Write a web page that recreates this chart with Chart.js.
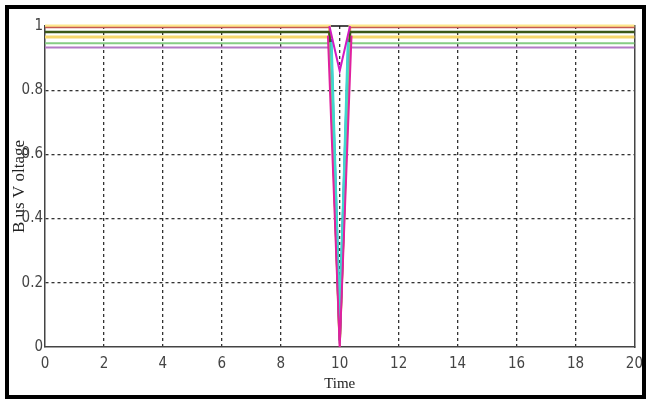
<!DOCTYPE html>
<html>
<head>
<meta charset="utf-8">
<script src="https://cdn.jsdelivr.net/npm/chart.js@4"></script>
<style>
  body { margin: 0; background: #fff; }
  #wrap { position: relative; width: 651px; height: 401px; }
  #marco { position: absolute; left: 5px; top: 5px; width: 633px; height: 386px; border: 4px solid #000; pointer-events: none; }
</style>
</head>
<body>
<div id="wrap">
  <canvas id="myChart" width="651" height="401"></canvas>
  <div id="marco"></div>
</div>
<script>
// datos
const tiempos = [0, 9.65, 10, 10.35, 20];
const barraNegra = [1.0, 1.0, 1.0, 1.0, 1.0];
const barraAmarilla1 = [1.0, 1.0, 0.03, 1.0, 1.0];
const barraRoja = [0.995, 0.995, 0.0, 0.995, 0.995];
const barraVerdeOsc = [0.981, 0.981, 0.02, 0.981, 0.981];
const barraAmarilla2 = [0.966, 0.966, 0.04, 0.966, 0.966];
const barraVerde = [0.946, 0.946, 0.05, 0.946, 0.946];
const barraVioleta = [0.933, 0.933, 0.01, 0.933, 0.933];

// tramos de la caida (lineas que quedan tapadas en el resto)
const tiemposCaidaAncha = [9.6, 10, 10.4];
const barraMagenta = [0.97, 0.0, 0.97];
const tiemposCaidaAngosta = [9.72, 10, 10.28];
const barraCian = [0.95, 0.08, 0.95];
const barraAzul = [0.96, 0.15, 0.96];
const tiemposV = [9.65, 10, 10.35];
const barraMagentaV = [1.0, 0.86, 1.0];

const ticksX = [0, 2, 4, 6, 8, 10, 12, 14, 16, 18, 20];
const ticksY = [0, 0.2, 0.4, 0.6, 0.8, 1];

function puntos(t, valores) {
    return valores.map((v, i) => ({ x: t[i], y: v }));
}

function serie(nombre, t, valores, color, ancho) {
    return {
        label: nombre,
        data: puntos(t, valores),
        borderColor: color,
        borderWidth: ancho,
        pointRadius: 0,
        tension: 0,
        clip: false,
    };
}

const fuenteTicks = { family: "'Liberation Sans Narrow', 'DejaVu Sans Condensed', sans-serif", size: 15 };
const fuenteTitulo = { family: "'Liberation Serif', 'DejaVu Serif', serif", size: 17 };

const ctx = document.getElementById('myChart').getContext('2d');

new Chart(ctx, {
    type: 'line',
    data: {
        datasets: [
            // el primero queda arriba
            serie('Bus J', tiemposV, barraMagentaV, '#d21ac0', 2),
            serie('Bus G', tiemposCaidaAncha, barraMagenta, '#e0209f', 2),
            serie('Bus H', tiemposCaidaAngosta, barraCian, '#3fd8cf', 2.5),
            serie('Bus I', tiemposCaidaAngosta, barraAzul, '#3550b8', 1.2),
            serie('Bus E', tiempos, barraVerde, '#86cc84', 2),
            serie('Bus F', tiempos, barraVioleta, '#b37ac6', 2),
            serie('Bus C', tiempos, barraVerdeOsc, '#3b5716', 2.5),
            serie('Bus B', tiempos, barraRoja, '#c65a52', 1.5),
            serie('Bus D', tiempos, barraAmarilla2, '#f6d76c', 3),
            serie('Bus A', tiempos, barraAmarilla1, '#fde78c', 3),
            serie('Bus K', tiempos, barraNegra, '#111111', 1.5),
        ]
    },
    options: {
        responsive: false,
        animation: false,
        layout: { padding: { top: 26, right: 14, left: 0, bottom: 0 } },
        plugins: {
            legend: { display: false },
            tooltip: { enabled: false },
        },
        scales: {
            x: {
                type: 'linear',
                min: 0,
                max: 20,
                afterFit: (s) => { s.height = 54; },
                afterBuildTicks: (s) => { s.ticks = ticksX.map(v => ({ value: v })); },
                ticks: { font: fuenteTicks, color: '#444', padding: 8, callback: (v) => String(v) },
                grid: {
                    drawTicks: false,
                    color: (c) => (c.tick && (c.tick.value === 0 || c.tick.value === 20)) ? 'rgba(0,0,0,0)' : '#333',
                    lineWidth: 1.3,
                },
                border: { display: true, color: '#444', width: 1.5, dash: [3, 3] },
                title: { display: true, text: 'Time', font: { family: fuenteTitulo.family, size: 15 }, color: '#222', padding: { top: 0, bottom: 8 } },
            },
            y: {
                min: 0,
                max: 1,
                afterFit: (s) => { s.width = 45; },
                afterBuildTicks: (s) => { s.ticks = ticksY.map(v => ({ value: v })); },
                ticks: { font: fuenteTicks, color: '#444', padding: 2, callback: (v) => String(v) },
                grid: {
                    drawTicks: false,
                    color: (c) => (c.tick && (c.tick.value === 0 || c.tick.value === 1)) ? 'rgba(0,0,0,0)' : '#333',
                    lineWidth: 1.3,
                },
                border: { display: true, color: '#444', width: 1.5, dash: [3, 3] },
                title: { display: true, text: 'B us V oltage', font: fuenteTitulo, color: '#222', padding: { top: 9, bottom: 0 } },
            },
            y2: {
                position: 'right',
                min: 0,
                max: 1,
                afterFit: (s) => { s.width = 0; },
                ticks: { display: false },
                grid: { display: false, drawTicks: false },
                border: { display: true, color: '#444', width: 1.5 },
            }
        }
    }
});
</script>
</body>
</html>
